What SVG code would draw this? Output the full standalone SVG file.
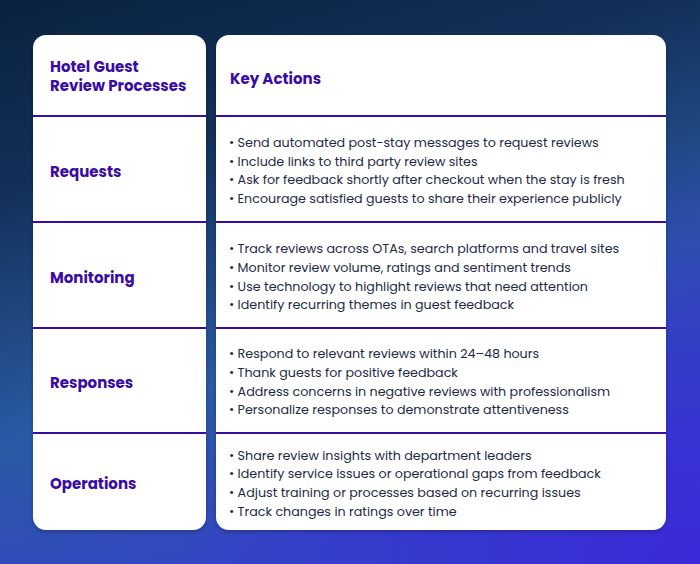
<svg xmlns="http://www.w3.org/2000/svg" width="700" height="564" viewBox="0 0 700 564">
<defs>
<linearGradient id="bg" x1="0" y1="0" x2="0.35" y2="1">
<stop offset="0" stop-color="#0a2240"/>
<stop offset="0.3" stop-color="#123058"/>
<stop offset="0.7" stop-color="#2a5aa4"/>
<stop offset="1" stop-color="#3346c4"/>
</linearGradient>
<radialGradient id="glow" cx="1" cy="1" r="0.75">
<stop offset="0" stop-color="#3a2ad8" stop-opacity="1"/>
<stop offset="1" stop-color="#3a2ad8" stop-opacity="0"/>
</radialGradient>
<filter id="sh" x="-5%" y="-5%" width="110%" height="110%"><feDropShadow dx="0" dy="2" stdDeviation="2" flood-color="#000" flood-opacity="0.25"/></filter>
<style>
.card{fill:#fff;filter:url(#sh)}
.div{stroke:#3a0ca3;stroke-width:2}
.h{font-family:Poppins,"Open Sans","Liberation Sans",sans-serif;font-weight:700;font-size:15px;fill:#3a0ca3}
.b{font-family:Poppins,"Open Sans","Liberation Sans",sans-serif;font-size:12.7px;fill:#1d2a44}
</style>
</defs>
<rect width="700" height="564" fill="url(#bg)"/>
<rect width="700" height="564" fill="url(#glow)"/>
<g id="left-card"><rect class="card" x="33" y="35" width="173" height="495" rx="13"/></g>
<g id="right-card"><rect class="card" x="216" y="35" width="450" height="495" rx="13"/></g>
<g id="connectors">
<line class="div" x1="33" y1="116" x2="206" y2="116"/><line class="div" x1="216" y1="116" x2="666" y2="116"/>
<line class="div" x1="33" y1="222" x2="206" y2="222"/><line class="div" x1="216" y1="222" x2="666" y2="222"/>
<line class="div" x1="33" y1="328" x2="206" y2="328"/><line class="div" x1="216" y1="328" x2="666" y2="328"/>
<line class="div" x1="33" y1="433" x2="206" y2="433"/><line class="div" x1="216" y1="433" x2="666" y2="433"/>
</g>
<g id="header"><text class="h" x="50" y="72">Hotel Guest</text><text class="h" x="50" y="91">Review Processes</text><text class="h" x="230" y="84">Key Actions</text></g>
<g id="requests"><text class="h" x="50" y="177">Requests</text>
<text class="b" x="229" y="147">• Send automated post-stay messages to request reviews</text>
<text class="b" x="229" y="166">• Include links to third party review sites</text>
<text class="b" x="229" y="184">• Ask for feedback shortly after checkout when the stay is fresh</text>
<text class="b" x="229" y="203">• Encourage satisfied guests to share their experience publicly</text></g>
<g id="monitoring"><text class="h" x="50" y="283">Monitoring</text>
<text class="b" x="229" y="253">• Track reviews across OTAs, search platforms and travel sites</text>
<text class="b" x="229" y="272">• Monitor review volume, ratings and sentiment trends</text>
<text class="b" x="229" y="291">• Use technology to highlight reviews that need attention</text>
<text class="b" x="229" y="309">• Identify recurring themes in guest feedback</text></g>
<g id="responses"><text class="h" x="50" y="388">Responses</text>
<text class="b" x="229" y="358">• Respond to relevant reviews within 24–48 hours</text>
<text class="b" x="229" y="377">• Thank guests for positive feedback</text>
<text class="b" x="229" y="396">• Address concerns in negative reviews with professionalism</text>
<text class="b" x="229" y="414">• Personalize responses to demonstrate attentiveness</text></g>
<g id="operations"><text class="h" x="50" y="489">Operations</text>
<text class="b" x="229" y="460">• Share review insights with department leaders</text>
<text class="b" x="229" y="478">• Identify service issues or operational gaps from feedback</text>
<text class="b" x="229" y="497">• Adjust training or processes based on recurring issues</text>
<text class="b" x="229" y="516">• Track changes in ratings over time</text></g>
</svg>
